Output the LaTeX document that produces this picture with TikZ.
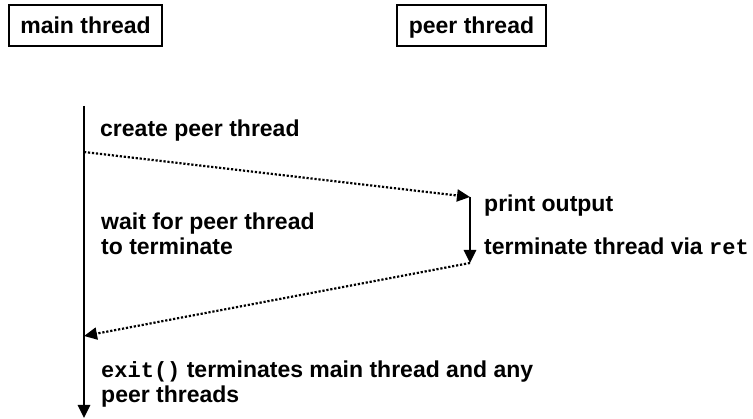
\documentclass[tikz,border=0pt]{standalone}
\usepackage{fontspec}
\setmainfont{Liberation Sans}
\setmonofont{Liberation Mono}
\usetikzlibrary{arrows.meta}
\newcommand{\codetxt}[1]{{\fontsize{22}{25}\selectfont\ttfamily\bfseries #1}}
\begin{document}
\begin{tikzpicture}[x=1pt,y=-1pt,
  lbl/.style={anchor=base west,inner sep=0pt,font=\fontsize{23}{25}\selectfont\bfseries,align=left},
  hdr/.style={draw,line width=2.2pt,minimum width=153pt,minimum height=41pt,inner sep=0pt,text height=18.5pt,text depth=2.5pt,font=\fontsize{23}{25}\selectfont\bfseries},
  life/.style={line width=2.6pt,-{Triangle[length=13pt,width=12pt]}},
  msg/.style={line width=2.2pt,dash pattern=on 2.2pt off 1.8pt,-{Triangle[length=13pt,width=12pt]}}]
\useasboundingbox (0,0) rectangle (753,419);
\node[hdr] (mainhdr) at (85.5,25.5) {main thread};
\node[hdr,minimum width=149pt] (peerhdr) at (471.5,25.5) {peer thread};
\coordinate (mtop) at (84,106);
\coordinate (mbot) at (84,418);
\coordinate (c1) at (84,152);
\coordinate (ptop) at (470,197);
\coordinate (pbot) at (470,263);
\coordinate (c3) at (84,336);
\draw[life] (mtop) -- (mbot);
\draw[life] (ptop) -- (pbot);
\draw[msg] (c1) -- (ptop);
\draw[msg] (pbot) -- (c3);
\node[lbl] (create) at (100,137) {create peer thread};
\node[lbl] (wait) at (101,255) {wait for peer thread\\to terminate};
\node[lbl] (print) at (484,212) {print output};
\node[lbl] (term) at (484,255) {terminate thread via \codetxt{ret}};
\node[lbl] (exit) at (101,403) {\codetxt{exit()} terminates main thread and any\\peer threads};
\end{tikzpicture}
\end{document}
